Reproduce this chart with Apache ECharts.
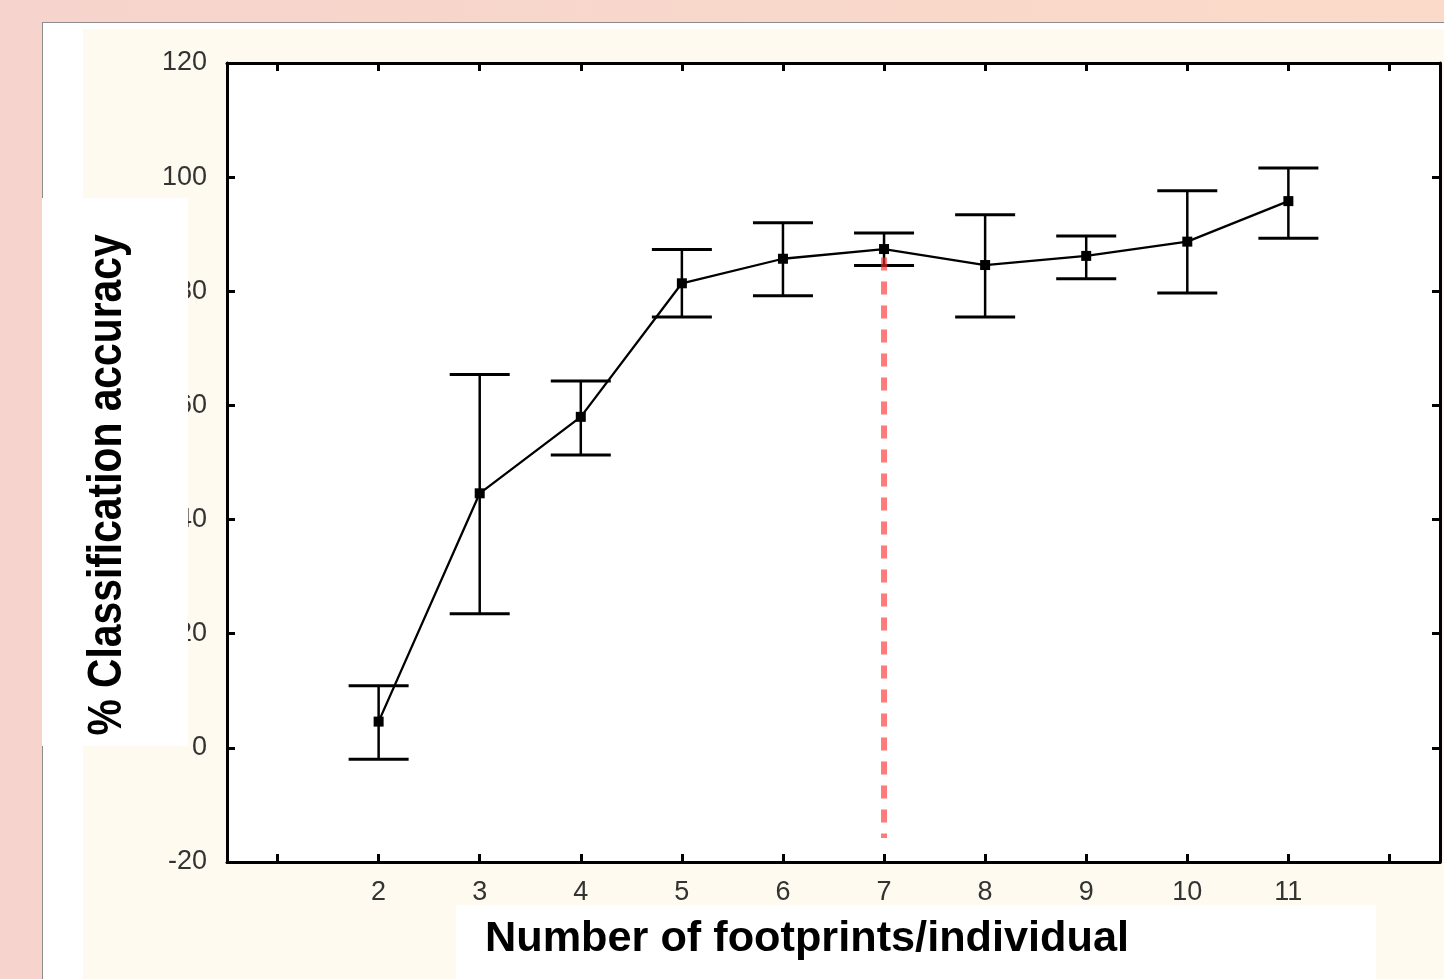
<!DOCTYPE html>
<html>
<head>
<meta charset="utf-8">
<script src="https://cdn.jsdelivr.net/npm/echarts@6/dist/echarts.min.js"></script>
<style>
  html, body { margin: 0; padding: 0; width: 1444px; height: 979px; overflow: hidden; }
  #bg { position: absolute; left: 0; top: 0; width: 1444px; height: 979px;
        background: linear-gradient(to right, #f6d3cc, #f9d8cb 60%, #fbdac9); }
  #panel { position: absolute; left: 42px; top: 22px; width: 1402px; height: 957px;
           background: #ffffff; border-top: 1px solid #8c8c8c; border-left: 1px solid #8c8c8c; box-sizing: border-box; }
  #cream { position: absolute; left: 83px; top: 29px; width: 1361px; height: 950px; background: #fffaef; }
  #chart { position: absolute; left: 0; top: 0; width: 1444px; height: 979px; }
</style>
</head>
<body>
<div id="bg"></div>
<div id="panel"></div>
<div id="cream"></div>
<div id="chart"></div>
<script>
// ---- data ----
const xCategories = ['1', '2', '3', '4', '5', '6', '7', '8', '9', '10', '11', '12'];
const xTickLabels = ['2', '3', '4', '5', '6', '7', '8', '9', '10', '11'];
const footprints = ['2', '3', '4', '5', '6', '7', '8', '9', '10', '11'];
const meanAccuracy = [4.6, 44.6, 58.0, 81.4, 85.7, 87.4, 84.6, 86.2, 88.7, 95.8];
const lowerBound = [-2.0, 23.5, 51.3, 75.5, 79.2, 84.5, 75.5, 82.2, 79.7, 89.3];
const upperBound = [10.9, 65.4, 64.3, 87.3, 92.0, 90.2, 93.4, 89.7, 97.6, 101.6];
const yTicks = { min: -20, max: 120, step: 20 };
const cutoffCategory = '7';
const cutoffRange = [85.9, -15.8];
const yTitle = '% Classification accuracy';
const xTitle = 'Number of footprints/individual';

const chart = echarts.init(document.getElementById('chart'), null, { renderer: 'canvas' });

const labelFont = { fontSize: 27, color: '#333333', fontFamily: 'Liberation Sans, Arial, sans-serif' };

function xAxisCfg(pos, showLabels) {
  return {
    type: 'category', data: xCategories, position: pos, boundaryGap: true,
    axisLine: { show: true, onZero: false, lineStyle: { color: '#000', width: 3 } },
    axisTick: { show: true, inside: true, alignWithLabel: true, interval: 0, length: 8, lineStyle: { color: '#000', width: 3 } },
    axisLabel: Object.assign({ show: showLabels, interval: 0, margin: 17,
      formatter: v => xTickLabels.includes(v) ? v : '' }, labelFont),
    splitLine: { show: false }
  };
}
function yAxisCfg(pos, showLabels) {
  return {
    type: 'value', min: yTicks.min, max: yTicks.max, interval: yTicks.step, position: pos,
    axisLine: { show: true, onZero: false, lineStyle: { color: '#000', width: 3 } },
    axisTick: { show: true, inside: true, length: 8, lineStyle: { color: '#000', width: 3 } },
    axisLabel: Object.assign({ show: showLabels, margin: 20 }, labelFont),
    splitLine: { show: false }
  };
}

const errorData = footprints.map((f, i) => [f, lowerBound[i], upperBound[i]]);
const meanData = footprints.map((f, i) => [f, meanAccuracy[i]]);
const cutoffData = cutoffRange.map(v => [cutoffCategory, v]);

chart.setOption({
  animation: false,
  backgroundColor: 'transparent',
  grid: { left: 227, right: 4, top: 63, bottom: 117, show: true, backgroundColor: '#ffffff', borderWidth: 0 },
  xAxis: [xAxisCfg('bottom', true), xAxisCfg('top', false)],
  yAxis: [yAxisCfg('left', true), yAxisCfg('right', false)],
  graphic: [
    { type: 'rect', shape: { x: 42, y: 198, width: 146, height: 548 }, style: { fill: '#ffffff' }, z: 50, silent: true },
    { type: 'rect', shape: { x: 456, y: 905, width: 920, height: 74 }, style: { fill: '#ffffff' }, z: 50, silent: true },
    { type: 'text', x: 108, y: 485, rotation: Math.PI / 2, scaleX: 0.85, z: 60,
      style: { text: yTitle, fontSize: 48, fontWeight: 'bold', fontFamily: 'Liberation Sans, Arial, sans-serif',
               fill: '#000', align: 'center', verticalAlign: 'middle' } },
    { type: 'text', x: 807, y: 939, scaleX: 1.03, z: 60,
      style: { text: xTitle, fontSize: 42, fontWeight: 'bold', fontFamily: 'Liberation Sans, Arial, sans-serif',
               fill: '#000', align: 'center', verticalAlign: 'middle' } }
  ],
  series: [
    {
      type: 'custom', xAxisIndex: 0, yAxisIndex: 0, z: 3,
      encode: { x: 0, y: [1, 2] },
      data: errorData,
      renderItem: function (params, api) {
        const lo = api.coord([api.value(0), api.value(1)]);
        const hi = api.coord([api.value(0), api.value(2)]);
        const hw = 30;
        const st = { stroke: '#000', lineWidth: 3 };
        return {
          type: 'group',
          children: [
            { type: 'line', shape: { x1: lo[0], y1: lo[1], x2: hi[0], y2: hi[1] }, style: { stroke: '#000', lineWidth: 2.5 } },
            { type: 'line', shape: { x1: lo[0] - hw, y1: lo[1], x2: lo[0] + hw, y2: lo[1] }, style: st },
            { type: 'line', shape: { x1: hi[0] - hw, y1: hi[1], x2: hi[0] + hw, y2: hi[1] }, style: st }
          ]
        };
      }
    },
    {
      type: 'line', xAxisIndex: 0, yAxisIndex: 0, z: 4,
      data: meanData,
      symbol: 'rect', symbolSize: 10, showAllSymbol: true,
      itemStyle: { color: '#000' },
      lineStyle: { color: '#000', width: 2.3 }
    },
    {
      type: 'line', xAxisIndex: 0, yAxisIndex: 0, z: 6,
      data: cutoffData, symbol: 'none',
      lineStyle: { color: 'rgba(255,40,40,0.62)', width: 6, type: [13, 11] }
    }
  ]
});
</script>
</body>
</html>
